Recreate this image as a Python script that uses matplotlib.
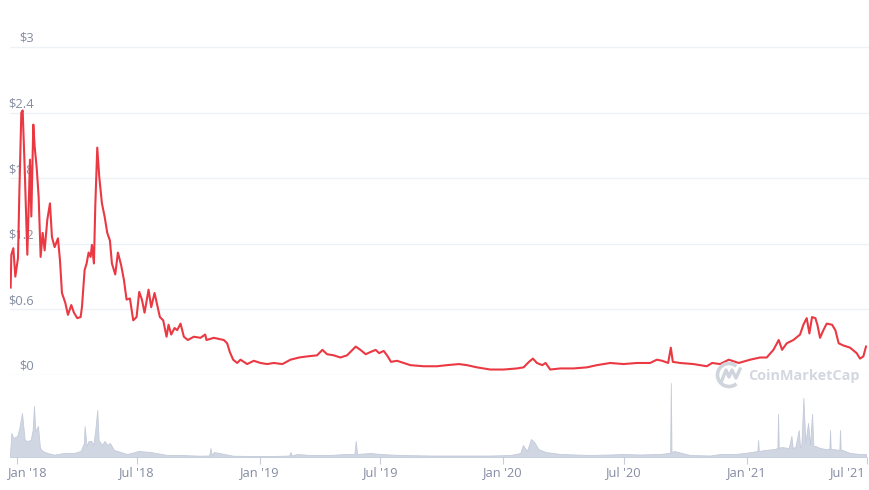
import numpy as np
import pandas as pd
from matplotlib import pyplot as plt
from matplotlib import patches, transforms
from matplotlib.lines import Line2D

# price line (USD)
price_dates = [
    "2017-12-23", "2017-12-24", "2017-12-27", "2017-12-30", "2018-01-03",
    "2018-01-05", "2018-01-08", "2018-01-10", "2018-01-13", "2018-01-17",
    "2018-01-21", "2018-01-23", "2018-01-26", "2018-01-28", "2018-01-31",
    "2018-02-03", "2018-02-06", "2018-02-09", "2018-02-12", "2018-02-16",
    "2018-02-20", "2018-02-23", "2018-02-27", "2018-03-04", "2018-03-07",
    "2018-03-10", "2018-03-15", "2018-03-19", "2018-03-24", "2018-03-28",
    "2018-04-02", "2018-04-07", "2018-04-09", "2018-04-13", "2018-04-16",
    "2018-04-19", "2018-04-22", "2018-04-24", "2018-04-27", "2018-04-29",
    "2018-05-02", "2018-05-05", "2018-05-09", "2018-05-13", "2018-05-17",
    "2018-05-21", "2018-05-24", "2018-05-29", "2018-06-02", "2018-06-07",
    "2018-06-11", "2018-06-15", "2018-06-20", "2018-06-25", "2018-06-30",
    "2018-07-04", "2018-07-08", "2018-07-12", "2018-07-18", "2018-07-22",
    "2018-07-27", "2018-08-04", "2018-08-09", "2018-08-14", "2018-08-17",
    "2018-08-21", "2018-08-26", "2018-08-30", "2018-09-04", "2018-09-09",
    "2018-09-15", "2018-09-24", "2018-10-04", "2018-10-11", "2018-10-13",
    "2018-10-24", "2018-11-08", "2018-11-13", "2018-11-17", "2018-11-22",
    "2018-11-28", "2018-12-03", "2018-12-13", "2018-12-23", "2019-01-02",
    "2019-01-12", "2019-01-22", "2019-02-04", "2019-02-16", "2019-03-01",
    "2019-03-13", "2019-03-28", "2019-04-05", "2019-04-12", "2019-04-22",
    "2019-05-02", "2019-05-12", "2019-05-25", "2019-06-01", "2019-06-09",
    "2019-06-16", "2019-06-24", "2019-06-29", "2019-07-06", "2019-07-11",
    "2019-07-17", "2019-07-26", "2019-08-05", "2019-08-15", "2019-09-04",
    "2019-09-24", "2019-10-09", "2019-10-27", "2019-11-08", "2019-11-23",
    "2019-12-13", "2020-01-02", "2020-01-22", "2020-02-01", "2020-02-09",
    "2020-02-15", "2020-02-21", "2020-02-29", "2020-03-05", "2020-03-12",
    "2020-03-27", "2020-04-16", "2020-05-06", "2020-05-21", "2020-06-10",
    "2020-06-30", "2020-07-20", "2020-08-09", "2020-08-19", "2020-08-27",
    "2020-09-05", "2020-09-09", "2020-09-12", "2020-09-23", "2020-10-13",
    "2020-11-02", "2020-11-10", "2020-11-22", "2020-12-05", "2020-12-20",
    "2021-01-06", "2021-01-21", "2021-01-31", "2021-02-10", "2021-02-18",
    "2021-02-23", "2021-03-02", "2021-03-12", "2021-03-22", "2021-03-27",
    "2021-04-01", "2021-04-05", "2021-04-09", "2021-04-14", "2021-04-17",
    "2021-04-21", "2021-04-26", "2021-05-01", "2021-05-09", "2021-05-14",
    "2021-05-19", "2021-05-26", "2021-06-05", "2021-06-15", "2021-06-20",
    "2021-06-25", "2021-06-29",
]
price_usd = [
    0.80, 1.10, 1.16, 0.90, 1.07,
    1.66, 2.40, 2.42, 1.90, 1.10,
    1.97, 1.45, 2.29, 2.09, 1.90,
    1.63, 1.08, 1.30, 1.14, 1.42,
    1.57, 1.26, 1.17, 1.25, 1.05,
    0.75, 0.66, 0.55, 0.64, 0.57,
    0.52, 0.53, 0.62, 0.96, 1.02,
    1.12, 1.08, 1.19, 1.02, 1.54,
    2.08, 1.81, 1.57, 1.45, 1.30,
    1.23, 1.02, 0.92, 1.12, 1.00,
    0.87, 0.69, 0.70, 0.50, 0.53,
    0.76, 0.69, 0.57, 0.78, 0.62,
    0.75, 0.53, 0.50, 0.35, 0.46,
    0.37, 0.43, 0.41, 0.47, 0.35,
    0.32, 0.35, 0.34, 0.37, 0.32,
    0.34, 0.32, 0.29, 0.21, 0.14,
    0.11, 0.14, 0.10, 0.13, 0.11,
    0.10, 0.11, 0.10, 0.14, 0.16,
    0.17, 0.18, 0.23, 0.19, 0.18,
    0.16, 0.18, 0.26, 0.23, 0.19,
    0.21, 0.23, 0.20, 0.22, 0.18,
    0.12, 0.13, 0.11, 0.09, 0.08,
    0.08, 0.09, 0.10, 0.09, 0.07,
    0.05, 0.05, 0.06, 0.07, 0.12,
    0.15, 0.11, 0.09, 0.11, 0.05,
    0.06, 0.06, 0.07, 0.09, 0.11,
    0.10, 0.11, 0.11, 0.14, 0.13,
    0.11, 0.25, 0.12, 0.11, 0.10,
    0.08, 0.11, 0.10, 0.14, 0.11,
    0.14, 0.16, 0.16, 0.23, 0.32,
    0.23, 0.29, 0.32, 0.37, 0.46,
    0.52, 0.38, 0.53, 0.52, 0.46,
    0.34, 0.41, 0.47, 0.46, 0.41,
    0.29, 0.27, 0.25, 0.20, 0.15,
    0.17, 0.26,
]

# 24h volume, relative units (read as bar heights)
volume_dates = [
    "2017-12-22", "2017-12-24", "2017-12-27", "2018-01-02", "2018-01-05",
    "2018-01-09", "2018-01-13", "2018-01-17", "2018-01-22", "2018-01-25",
    "2018-01-27", "2018-01-29", "2018-02-02", "2018-02-05", "2018-02-09",
    "2018-02-16", "2018-02-26", "2018-03-13", "2018-03-28", "2018-04-07",
    "2018-04-12", "2018-04-13", "2018-04-16", "2018-04-19", "2018-04-23",
    "2018-04-26", "2018-04-29", "2018-05-02", "2018-05-04", "2018-05-09",
    "2018-05-13", "2018-05-17", "2018-05-21", "2018-05-27", "2018-06-06",
    "2018-06-16", "2018-07-03", "2018-07-21", "2018-08-15", "2018-09-04",
    "2018-10-04", "2018-10-17", "2018-10-19", "2018-10-21", "2018-10-24",
    "2018-11-22", "2018-12-23", "2019-01-22", "2019-02-14", "2019-02-16",
    "2019-02-18", "2019-02-26", "2019-03-17", "2019-04-16", "2019-05-09",
    "2019-05-23", "2019-05-25", "2019-05-27", "2019-06-16", "2019-07-01",
    "2019-07-31", "2019-09-14", "2019-10-29", "2019-12-13", "2020-01-12",
    "2020-01-27", "2020-01-31", "2020-02-06", "2020-02-12", "2020-02-17",
    "2020-02-23", "2020-03-05", "2020-03-27", "2020-05-11", "2020-06-10",
    "2020-06-28", "2020-07-25", "2020-08-24", "2020-09-05", "2020-09-08",
    "2020-09-09", "2020-09-10", "2020-09-14", "2020-10-08", "2020-11-07",
    "2020-11-22", "2020-12-14", "2020-12-29", "2021-01-08", "2021-01-17",
    "2021-01-18", "2021-01-19", "2021-01-28", "2021-02-12", "2021-02-16",
    "2021-02-17", "2021-02-18", "2021-02-22", "2021-03-05", "2021-03-09",
    "2021-03-11", "2021-03-15", "2021-03-20", "2021-03-22", "2021-03-24",
    "2021-03-27", "2021-03-30", "2021-04-03", "2021-04-06", "2021-04-09",
    "2021-04-11", "2021-04-14", "2021-04-21", "2021-04-29", "2021-05-05",
    "2021-05-06", "2021-05-07", "2021-05-10", "2021-05-20", "2021-05-21",
    "2021-05-22", "2021-05-25", "2021-06-05", "2021-06-20", "2021-06-29",
]
volume = [
    2, 24, 19, 21, 29,
    44, 17, 16, 17, 27,
    51, 26, 31, 9, 6,
    4, 2.3, 4, 4, 6,
    14, 31, 11, 16, 16,
    12, 27, 47, 17, 12,
    16, 12, 14, 7, 5,
    3, 6, 5, 2, 2,
    1.3, 1.5, 9, 1.5, 5,
    1.3, 1, 1, 1.5, 5,
    1.5, 3, 2, 2, 3,
    3, 16, 3, 4, 3,
    2, 1.5, 1.5, 1.5, 2,
    4, 12, 6, 18, 15,
    8, 5, 3, 2, 2.5,
    3, 2.5, 3, 4, 4,
    74, 5, 6, 2, 1.5,
    3, 3, 4, 5, 6,
    17, 6, 7, 8, 9,
    43, 9, 10, 9, 21,
    9, 10, 27, 10, 12,
    59, 14, 34, 12, 43,
    11, 11, 9, 8, 8,
    27, 8, 8, 7, 27,
    7, 7, 4, 3, 3,
]

y_ticks = [0, 0.6, 1.2, 1.8, 2.4, 3]
y_labels = ["$0", "$0.6", "$1.2", "$1.8", "$2.4", "$3"]
x_ticks = ["2018-01-01", "2018-07-01", "2019-01-01", "2019-07-01",
           "2020-01-01", "2020-07-01", "2021-01-01", "2021-07-01"]
x_labels = ["Jan '18", "Jul '18", "Jan '19", "Jul '19",
            "Jan '20", "Jul '20", "Jan '21", "Jul '21"]

red = "#ea3943"
grey_text = "#858ca2"
grid_col = "#eff2f5"
vol_col = "#d0d6e2"

plt.rcParams["font.family"] = ["Open Sans", "DejaVu Sans"]

fig = plt.figure(figsize=(8.7, 4.9), dpi=100)
W, H = 870, 490

x_left = pd.Timestamp("2017-12-22")
x_right = pd.Timestamp("2021-07-05")

# price panel: $0 at y=375px, $3 at y=47px
p_top = 40
ax = fig.add_axes([10 / W, (H - 375) / H, 860 / W, (375 - p_top) / H])
ax.set_xlim(x_left, x_right)
ax.set_ylim(0, 3 * (375 - p_top) / (375 - 47))
for s in ax.spines.values():
    s.set_visible(False)
ax.set_xticks([])
ax.set_yticks([])
ax.patch.set_alpha(0)
for v in y_ticks:
    ax.axhline(v, color=grid_col, lw=1, zorder=0)
for v, lab in zip(y_ticks, y_labels):
    ax.text(24 / 860, v + 0.02, lab, transform=ax.get_yaxis_transform(),
            ha="right", va="bottom", fontsize=9.3, color=grey_text, zorder=1)

# watermark
logo_tr = transforms.IdentityTransform()
fig.add_artist(patches.Arc((729, H - 375), 23, 23, theta1=50, theta2=310,
                           transform=logo_tr, color="#cfd4dd", lw=2.6))
fig.add_artist(Line2D([722, 726, 729, 732, 736, 740],
                      [H - 380, H - 370, H - 377, H - 370, H - 378, H - 369],
                      transform=logo_tr, color="#cfd4dd", lw=2.4))
fig.text(748 / W, (H - 376) / H, "CoinMarketCap", ha="left", va="center",
         fontsize=10.4, fontweight="bold", color="#d3d8e0")

ax.plot(pd.to_datetime(price_dates), price_usd, color=red, lw=1.5, zorder=3)

# volume panel
vx = fig.add_axes([10 / W, (H - 457) / H, 860 / W, 77 / H])
vx.set_xlim(x_left, x_right)
vx.set_ylim(0, 77)
vx.patch.set_alpha(0)
vx.fill_between(pd.to_datetime(volume_dates), volume, 0, color=vol_col, lw=0.6,
                edgecolor="#c4cbd9")
for s in vx.spines.values():
    s.set_visible(False)
vx.set_yticks([])
tick_pos = pd.to_datetime(x_ticks)
vx.set_xticks(tick_pos)
vx.set_xticklabels([])
vx.tick_params(axis="x", length=5, width=0.8, color="#c8ccd6")

# date labels: the outer two are pulled inside the frame, like the site does
lab_tr = transforms.blended_transform_factory(vx.transData, vx.transAxes)
for i, (t, lab) in enumerate(zip(tick_pos, x_labels)):
    ha = "center"
    off = 0
    if i == 0:
        ha, off = "left", -9
    elif i == len(x_labels) - 1:
        ha, off = "right", -2
    tr = lab_tr + transforms.ScaledTranslation(off / 100, -9 / 100, fig.dpi_scale_trans)
    vx.text(t, 0, lab, transform=tr, ha=ha, va="top", fontsize=9.3,
            color=grey_text)

fig.savefig("out.png", dpi=100)
